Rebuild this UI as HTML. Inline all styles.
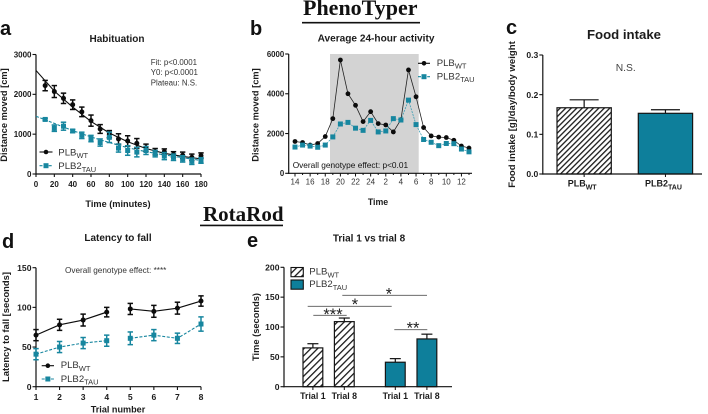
<!DOCTYPE html>
<html>
<head>
<meta charset="utf-8">
<title>PhenoTyper and RotaRod figure</title>
<style>
html,body{margin:0;padding:0;background:#fff;width:708px;height:414px;overflow:hidden}
svg{display:block;filter:blur(.35px)}
text{font-family:"Liberation Sans",sans-serif;fill:#1c1c1c}
.serif{font-family:"Liberation Serif",serif;font-weight:bold;fill:#111}
</style>
</head>
<body>
<svg id="fig" xmlns="http://www.w3.org/2000/svg" width="708" height="414" viewBox="0 0 708 414">
<defs>
<pattern id="hatch" patternUnits="userSpaceOnUse" width="3.9" height="3.9" patternTransform="rotate(45)">
<rect width="3.9" height="3.9" fill="#fff"/><rect x="0" width="1.3" height="3.9" fill="#1a1a1a"/>
</pattern>
<pattern id="hatchWide" patternUnits="userSpaceOnUse" width="4.8" height="4.8" patternTransform="rotate(45)">
<rect width="4.8" height="4.8" fill="#fff"/><rect x="0" width="1.3" height="4.8" fill="#1a1a1a"/>
</pattern>
</defs>
</svg>
<script>
// ---------- Panel a: Habituation
const aTimes = [10,20,30,40,50,60,70,80,90,100,110,120,130,140,150,160,170,180];
const aWT = [2220,2070,1900,1740,1560,1340,1130,1000,880,830,770,660,560,560,490,470,420,460];
const aWTErr = [130,150,130,120,120,140,110,90,130,130,120,90,80,70,70,80,80,70];
const aTAU = [1370,1150,1200,1080,970,890,790,920,650,590,550,590,510,450,420,380,320,340];
const aTAUErr = [30,80,100,40,80,80,90,130,100,120,120,100,80,90,80,80,80,70];
const aFitTimes = [0,20,40,60,80,100,120,140,160,180];
const aFitWT = [2600,2080,1680,1320,1030,810,640,520,440,380];
const aFitTAU = [1450,1270,1090,930,790,660,560,480,410,340];
const aXTicks = [0,20,40,60,80,100,120,140,160,180];
const aYTicks = [0,1000,2000,3000];
// ---------- Panel b: 24-hour activity
const bHours = [14,15,16,17,18,19,20,21,22,23,24,1,2,3,4,5,6,7,8,9,10,11,12,13];
const bWT = [1600,1550,1420,1500,1850,2750,5700,4000,3420,2600,3100,2500,2430,2080,2700,5200,3850,2300,1880,1820,1800,1660,1370,1270];
const bTAU = [1320,1420,1370,1310,1420,1830,2480,2560,2270,2160,2660,2080,2130,2750,2680,3680,2450,1700,1560,1390,1500,1490,1220,1080];
const bYTicks = [0,2000,4000,6000];
// ---------- Panel c: Food intake
const cGroups = ["WT","TAU"];
const cValues = [0.167,0.153];
const cErrTop = [0.187,0.162];
const cYTicks = ["0.0","0.1","0.2","0.3"];
// ---------- Panel d: Latency to fall
const dTrials = [1,2,3,4,5,6,7,8];
const dWT = [65,78,84,94,98,95,99,108];
const dWTErr = [7,7,7.5,6,7,7.5,7.5,6.5];
const dTAU = [41,50,55,58,61,65,61,79];
const dTAUErr = [7,7,7,7,8,7,6.5,9];
const dYTicks = [0,50,100,150];
// ---------- Panel e: Trial 1 vs trial 8
const eLabels = ["Trial 1","Trial 8","Trial 1","Trial 8"];
const eValues = [65,109,41,80];
const eErrTop = [72,115,47,88];
const eYTicks = [0,50,100,150,200];

const TEAL = "#0e7f9b";
const TEALM = "#17869f";
const BLACK = "#0c0c0c";
const svg = document.getElementById('fig');
const NS = "http://www.w3.org/2000/svg";

function mk(tag, attrs, name, parent){
  const el = document.createElementNS(NS, tag);
  for (const k in attrs) el.setAttribute(k, attrs[k]);
  
  
  (parent || svg).appendChild(el);
  return el;
}
function line(x1,y1,x2,y2,stroke,w,name,parent,dash){
  const a = {x1:x1,y1:y1,x2:x2,y2:y2,stroke:stroke,'stroke-width':w};
  if (dash) a['stroke-dasharray'] = dash;
  return mk('line',a,name,parent);
}
function txt(x,y,s,size,opts,name,parent){
  opts = opts || {};
  const a = {x:x,y:y,'font-size':size};
  if (opts.anchor) a['text-anchor'] = opts.anchor;
  if (opts.bold) a['font-weight'] = 'bold';
  if (opts.fill) a['style'] = 'fill:'+opts.fill;
  if (opts.cls) a['class'] = opts.cls;
  if (opts.rot) a['transform'] = 'rotate(-90 '+x+' '+y+')';
  const el = mk('text',a,name,parent);
  el.textContent = s;
  return el;
}
function subLabel(x,y,main,sub,size,opts,name,parent){
  const el = txt(x,y,main,size,opts,name,parent);
  const t = document.createElementNS(NS,'tspan');
  t.setAttribute('dy', size*0.3);
  t.setAttribute('font-size', size*0.78);
  t.textContent = sub;
  el.appendChild(t);
  return el;
}
function group(name){ return mk('g',{},name); }
function axes(g,x0,xEnd,y0,yTop){
  line(x0,yTop,x0,y0+0.6,'#111',1.2,'y-axis-line',g);
  line(x0-0.6,y0,xEnd,y0,'#111',1.2,'x-axis-line',g);
}
function yAxis(g,x0,ys,labels,size,bold){
  ys.forEach((y,i)=>{
    line(x0-3.5,y,x0,y,'#111',1.1,'y-tick',g);
    txt(x0-4.5,y+size*0.36,labels[i],size,{anchor:'end',bold:bold},'y-tick-label',g);
  });
}
function seriesLine(g,pts,color,w,dash,name){
  const a = {points:pts.map(p=>p[0]+','+p[1]).join(' '),fill:'none',stroke:color,'stroke-width':w};
  if (dash) a['stroke-dasharray'] = dash;
  mk('polyline',a,name,g);
}
function errBar(g,x,yLo,yHi,color,cap,w,name){
  line(x,yLo,x,yHi,color,w,name+'-error',g);
  line(x-cap,yHi,x+cap,yHi,color,w,name+'-cap-top',g);
  line(x-cap,yLo,x+cap,yLo,color,w,name+'-cap-bottom',g);
}
function circle(g,x,y,r,name){ mk('circle',{cx:x,cy:y,r:r,fill:BLACK},name,g); }
function square(g,x,y,s,name){ mk('rect',{x:x-s/2,y:y-s/2,width:s,height:s,fill:TEALM},name,g); }
function legendEntry(g,x1,x2,y,tx,ty,main,sub,kind,size){
  const n = kind==='c' ? 'legend-entry-wt' : 'legend-entry-tau';
  line(x1,y,x2,y,kind==='c'?BLACK:TEALM,1.1,n+'-line',g,kind==='c'?null:'3 1.6');
  if (kind==='c') circle(g,(x1+x2)/2,y,2.3,n+'-marker'); else square(g,(x1+x2)/2,y,5,n+'-marker');
  subLabel(tx,ty,main,sub,size,{fill:'#333'},n+'-label',g);
}

// ---------- Headings
txt(303,15,'PhenoTyper',22,{cls:'serif'},'phenotyper-heading');
line(302,22.7,420,22.7,'#111',1.6,'phenotyper-underline');
txt(203,221,'RotaRod',21,{cls:'serif'},'rotarod-heading');
line(200,225.4,283,225.4,'#111',1.6,'rotarod-underline');
txt(0,35,'a',20,{bold:true,fill:'#111'},'panel-label-a');
txt(250,35,'b',20,{bold:true,fill:'#111'},'panel-label-b');
txt(506,34,'c',20,{bold:true,fill:'#111'},'panel-label-c');
txt(2,248,'d',20,{bold:true,fill:'#111'},'panel-label-d');
txt(247,247,'e',20,{bold:true,fill:'#111'},'panel-label-e');

// ---------- Panel a
(function(){
  const g = group('habituation-chart');
  const X = v => 36 + v*(201-36)/180;
  const Y = v => 174 - v*(174-54.5)/3000;
  txt(117,41.8,'Habituation',10,{anchor:'middle',bold:true},'chart-title',g);
  txt(7,115,'Distance moved [cm]',9.3,{anchor:'middle',bold:true,rot:true},'y-axis-title',g);
  txt(118,207,'Time (minutes)',9.2,{anchor:'middle',bold:true},'x-axis-title',g);
  axes(g,36,201,174,54.5);
  yAxis(g,36,aYTicks.map(Y),aYTicks,8,true);
  aXTicks.forEach(t=>{
    line(X(t),174,X(t),177,'#111',1.1,'x-tick',g);
    txt(X(t),187,t,8,{anchor:'middle',bold:true},'x-tick-label',g);
  });
  txt(150.7,65,'Fit: p<0.0001',7.9,{fill:'#333'},'fit-annotation',g);
  txt(150.7,75.2,'Y0: p<0.0001',7.9,{fill:'#333'},'y0-annotation',g);
  txt(150.7,85.4,'Plateau: N.S.',7.9,{fill:'#333'},'plateau-annotation',g);
  seriesLine(g,aFitTimes.map((t,i)=>[X(t),Y(aFitWT[i])]),BLACK,1.1,null,'fit-line-wt');
  seriesLine(g,aFitTimes.map((t,i)=>[X(t),Y(aFitTAU[i])]),TEALM,1.1,'3 1.6','fit-line-tau');
  aTimes.forEach((t,i)=>{
    errBar(g,X(t),Y(aWT[i]-aWTErr[i]),Y(aWT[i]+aWTErr[i]),BLACK,2.7,1.5,'wt');
    circle(g,X(t),Y(aWT[i]),2.5,'wt-point');
  });
  aTimes.forEach((t,i)=>{
    errBar(g,X(t),Y(aTAU[i]-aTAUErr[i]),Y(aTAU[i]+aTAUErr[i]),TEALM,2.7,1.5,'tau');
    square(g,X(t),Y(aTAU[i]),5,'tau-point');
  });
  legendEntry(g,39.5,52.5,152,58.3,155.3,'PLB','WT','c',9.6);
  legendEntry(g,39.5,52.5,165.7,58.3,169,'PLB2','TAU','s',9.6);
})();

// ---------- Panel b
(function(){
  const g = group('activity-chart');
  const X = i => 295 + i*(469-295)/23;
  const Y = v => 173.3 - v*(173.3-54)/6000;
  mk('rect',{x:330,y:54,width:88.7,height:119.3,fill:'#d3d3d3'},'dark-phase-shading',g);
  txt(376,41.5,'Average 24-hour activity',10.1,{anchor:'middle',bold:true},'chart-title',g);
  txt(258.5,115,'Distance moved [cm]',9.3,{anchor:'middle',bold:true,rot:true},'y-axis-title',g);
  txt(378,205,'Time',8.8,{anchor:'middle',bold:true},'x-axis-title',g);
  axes(g,288.7,472,173.3,54);
  yAxis(g,288.7,bYTicks.map(Y),bYTicks,7.8,true);
  bHours.forEach((h,i)=>{
    const major = i%2===0;
    line(X(i),173.3,X(i),major?176.5:175,'#111',1,'x-tick',g);
    if (major) txt(X(i),184.5,h,8,{anchor:'middle',fill:'#333'},'x-tick-label',g);
  });
  txt(292.7,167.8,'Overall genotype effect: p<0.01',8.3,{fill:'#111'},'genotype-effect-annotation',g);
  seriesLine(g,bWT.map((v,i)=>[X(i),Y(v)]),'#222',.8,null,'line-wt');
  seriesLine(g,bTAU.map((v,i)=>[X(i),Y(v)]),'#3d9db3',.8,'2 1','line-tau');
  bWT.forEach((v,i)=>circle(g,X(i),Y(v),2.4,'wt-point'));
  bTAU.forEach((v,i)=>square(g,X(i),Y(v),5,'tau-point'));
  legendEntry(g,418,430,63.3,436.7,65.8,'PLB','WT','c',9.6);
  legendEntry(g,418,430,76.7,436.7,79.3,'PLB2','TAU','s',9.6);
})();

// ---------- Panel c
(function(){
  const g = group('food-intake-chart');
  const Y = v => 174 - v*(174-55)/0.3;
  const barLeft = i => 557 + i*81.3;
  const barW = 54.3;
  txt(624,38.8,'Food intake',13.2,{anchor:'middle',bold:true},'chart-title',g);
  txt(515,114.5,'Food intake [g]/day/body weight',9.6,{anchor:'middle',bold:true,rot:true},'y-axis-title',g);
  txt(615.7,70.8,'N.S.',10.3,{fill:'#444'},'not-significant-label',g);
  cValues.forEach((v,i)=>{
    const x = barLeft(i);
    line(x+barW/2,Y(v),x+barW/2,Y(cErrTop[i]),'#111',1.2,'bar-error',g);
    line(x+barW/2-14.5,Y(cErrTop[i]),x+barW/2+14.5,Y(cErrTop[i]),'#111',1.2,'bar-error-cap',g);
    mk('rect',{x:x,y:Y(v),width:barW,height:174-Y(v),fill:i===0?'url(#hatch)':TEAL,stroke:'#151515','stroke-width':1.2},'bar-'+cGroups[i].toLowerCase(),g);
    line(x+barW/2,174,x+barW/2,177,'#111',1,'x-tick',g);
    subLabel(x+barW/2-2,186.6,i===0?'PLB':'PLB2',cGroups[i],9,{anchor:'middle',bold:true},'x-tick-label',g);
  });
  axes(g,542.8,702,174,55);
  yAxis(g,542.8,cYTicks.map(t=>Y(parseFloat(t))),cYTicks,8.6,true);
})();

// ---------- Panel d
(function(){
  const g = group('latency-chart');
  const X = t => 36 + (t-1)*(201-36)/7;
  const Y = v => 386.7 - v*(386.7-267.7)/150;
  txt(118,241,'Latency to fall',10,{anchor:'middle',bold:true},'chart-title',g);
  txt(9,327,'Latency to fall [seconds]',9.4,{anchor:'middle',bold:true,rot:true},'y-axis-title',g);
  txt(118,412.7,'Trial number',9.1,{anchor:'middle',bold:true},'x-axis-title',g);
  txt(65,272.8,'Overall genotype effect: ****',8.2,{fill:'#333'},'genotype-effect-annotation',g);
  axes(g,36,201,386.7,267.7);
  yAxis(g,36,dYTicks.map(Y),dYTicks,8.6,true);
  dTrials.forEach(t=>{
    line(X(t),386.7,X(t),390,'#111',1.1,'x-tick',g);
    txt(X(t),400,t,8.6,{anchor:'middle',bold:true},'x-tick-label',g);
  });
  const idxA = [0,1,2,3], idxB = [4,5,6,7];
  [idxA,idxB].forEach(ix=>{
    seriesLine(g,ix.map(i=>[X(dTrials[i]),Y(dWT[i])]),BLACK,1.2,null,'line-wt');
    seriesLine(g,ix.map(i=>[X(dTrials[i]),Y(dTAU[i])]),TEALM,1.1,'3 1.6','line-tau');
  });
  dTrials.forEach((t,i)=>{
    errBar(g,X(t),Y(dWT[i]-dWTErr[i]),Y(dWT[i]+dWTErr[i]),BLACK,2.7,1.5,'wt');
    circle(g,X(t),Y(dWT[i]),2.5,'wt-point');
    errBar(g,X(t),Y(dTAU[i]-dTAUErr[i]),Y(dTAU[i]+dTAUErr[i]),TEALM,2.7,1.5,'tau');
    square(g,X(t),Y(dTAU[i]),5,'tau-point');
  });
  legendEntry(g,41.7,54,365.7,60.7,368.2,'PLB','WT','c',9.6);
  legendEntry(g,41.7,54,379,60.7,381.8,'PLB2','TAU','s',9.6);
})();

// ---------- Panel e
(function(){
  const g = group('trial-comparison-chart');
  const Y = v => 386.7 - v*(386.7-267.3)/200;
  const left = i => 303 + (i<2 ? i*31.4 : 82.4 + (i-2)*31.6);
  const W = 19.8;
  txt(369,241.7,'Trial 1 vs trial 8',10,{anchor:'middle',bold:true},'chart-title',g);
  txt(259,327,'Time (seconds)',9.3,{anchor:'middle',bold:true,rot:true},'y-axis-title',g);
  eValues.forEach((v,i)=>{
    const x = left(i), cx = x+W/2;
    line(cx,Y(v),cx,Y(eErrTop[i]),'#111',1.2,'bar-error',g);
    line(cx-5.5,Y(eErrTop[i]),cx+5.5,Y(eErrTop[i]),'#111',1.2,'bar-error-cap',g);
    mk('rect',{x:x,y:Y(v),width:W,height:386.7-Y(v),fill:i<2?'url(#hatchWide)':TEAL,stroke:'#151515','stroke-width':1.2},'bar-'+(i<2?'wt':'tau')+'-'+eLabels[i].toLowerCase().replace(' ','-'),g);
    line(cx,386.7,cx,390,'#111',1,'x-tick',g);
    txt(cx,399,eLabels[i],8.8,{anchor:'middle',bold:true},'x-tick-label',g);
  });
  axes(g,284,452,386.7,267.3);
  yAxis(g,284,eYTicks.map(Y),eYTicks,8.6,true);
  mk('rect',{x:291,y:267.5,width:12.3,height:9.2,fill:'url(#hatchWide)',stroke:'#111','stroke-width':1.1},'legend-swatch-wt',g);
  mk('rect',{x:291,y:280,width:12.3,height:9.2,fill:TEAL,stroke:'#111','stroke-width':1.1},'legend-swatch-tau',g);
  subLabel(309.3,274.4,'PLB','WT',9.6,{fill:'#333'},'legend-label-wt',g);
  subLabel(309.3,287,'PLB2','TAU',9.6,{fill:'#333'},'legend-label-tau',g);
  const sigLine = (x1,x2,y,n)=>line(x1,y,x2,y,'#555',.9,n,g);
  sigLine(313.3,346.7,315.3,'significance-line-wt-trials');
  txt(333,320.2,'***',16.5,{anchor:'middle',fill:'#222'},'significance-stars-wt-trials',g);
  sigLine(307.7,391.7,306.3,'significance-line-trial-1');
  txt(355,310.2,'*',16.5,{anchor:'middle',fill:'#222'},'significance-star-trial-1',g);
  sigLine(342.3,427,295.3,'significance-line-trial-8');
  txt(389,299.6,'*',16.5,{anchor:'middle',fill:'#222'},'significance-star-trial-8',g);
  sigLine(394.3,427.3,329.7,'significance-line-tau-trials');
  txt(413,333.6,'**',16.5,{anchor:'middle',fill:'#222'},'significance-stars-tau-trials',g);
})();
</script>
</body>
</html>
